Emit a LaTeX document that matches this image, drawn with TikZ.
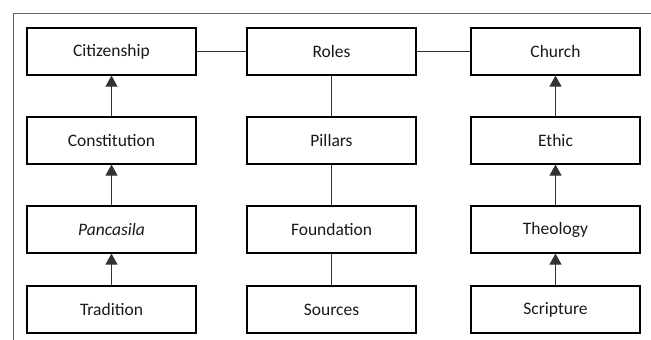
\documentclass[tikz,border=0pt]{standalone}
\usepackage{fontspec}
\setmainfont{Carlito}
\usetikzlibrary{arrows.meta}
\begin{document}
\begin{tikzpicture}[x=1pt,y=-1pt,
  box/.style={draw=black,line width=1.2pt,minimum width=169pt,minimum height=47pt,inner sep=0pt,font=\fontsize{17.5}{20}\selectfont,text=black!90},
  link/.style={draw=black!80,line width=1.1pt},
  arr/.style={link,-{Triangle[width=12pt,length=11pt]}}]
\useasboundingbox (0,0) rectangle (651,340);
\draw[black!60,line width=1pt] (13,340) -- (13,13) -- (651,13);
% left column
\node[box] (cit) at (111.5,51.5) {Citizenship};
\node[box] (con) at (111.5,140.5) {Constitution};
\node[box] (pan) at (111.5,229.5) {\itshape Pancasila};
\node[box] (tra) at (111.5,309.5) {Tradition};
% middle column
\node[box] (rol) at (331.5,51.5) {Roles};
\node[box] (pil) at (331.5,140.5) {Pillars};
\node[box] (fou) at (331.5,229.5) {Foundation};
\node[box] (sou) at (331.5,309.5) {Sources};
% right column
\node[box] (chu) at (555.5,51.5) {Church};
\node[box] (eth) at (555.5,140.5) {Ethic};
\node[box] (the) at (555.5,229.5) {Theology};
\node[box] (scr) at (555.5,309.5) {Scripture};
% connectors
\draw[link] (cit) -- (rol);
\draw[link] (rol) -- (chu);
\draw[link] (rol) -- (pil);
\draw[link] (pil) -- (fou);
\draw[link] (fou) -- (sou);
\draw[arr] (con) -- (cit);
\draw[arr] (pan) -- (con);
\draw[arr] (tra) -- (pan);
\draw[arr] (eth) -- (chu);
\draw[arr] (the) -- (eth);
\draw[arr] (scr) -- (the);
\end{tikzpicture}
\end{document}
